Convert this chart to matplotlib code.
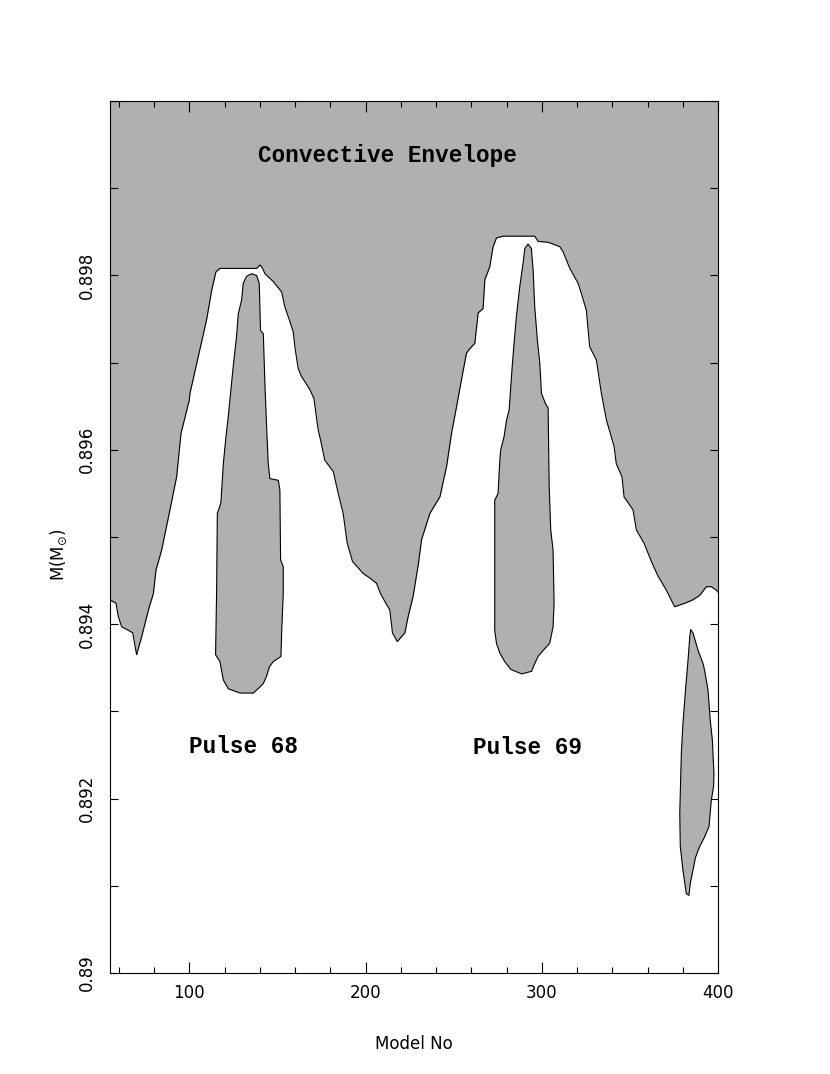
import matplotlib
matplotlib.use("Agg")
import matplotlib.pyplot as plt
from matplotlib.ticker import MultipleLocator, FixedLocator

# ---- data ----
env_x = [55, 58.4, 59.7, 61.6, 65.4, 67.9, 70.1, 73, 75.4, 77.3, 79.6, 81.1, 84.3, 89.0,
         92.8, 95.3, 100.0, 100.4, 105.1, 109.8, 112.7, 115.1, 117.4, 138.2, 140.1, 141.6,
         142.9, 147.6, 152.4, 154.2, 157.1, 159, 159.9, 161.8, 163.7, 168.4, 170.7, 173.1,
         174.5, 176.9, 181.7, 184.5, 187.3, 189.6, 192.6, 198.7, 202.4, 206.2, 208.5, 211,
         213.8, 215.3, 218, 222.3, 224.2, 227, 229.9, 231.8, 236.5, 242.2, 246, 248.8,
         251.6, 254.4, 257.3, 259.2, 262, 263.9, 266.7, 267.7, 270.5, 272.4, 274.3, 278.1,
         287.5, 296, 297.9, 303.6, 310.2, 312.1, 315.9, 320.6, 322.5, 325.3, 327.2, 331,
         333.8, 336.7, 341, 342.3, 345.5, 346.7, 351.8, 353.7, 358, 362.6, 366, 370.7,
         375.4, 381.1, 385.8, 389.6, 393.4, 396.2, 399.1, 400]
env_y = [0.89428, 0.89424, 0.89409, 0.89397, 0.89393, 0.89390, 0.89365, 0.89386, 0.89405,
         0.89420, 0.89435, 0.89462, 0.89485, 0.89531, 0.89569, 0.89619, 0.89657, 0.89665,
         0.89707, 0.89749, 0.89783, 0.89804, 0.89808, 0.89808, 0.89812, 0.89808, 0.89802,
         0.89793, 0.89781, 0.89764, 0.89747, 0.89735, 0.89718, 0.89693, 0.89684, 0.89669,
         0.89659, 0.89623, 0.89611, 0.89588, 0.89575, 0.89550, 0.89527, 0.89493, 0.89472,
         0.89458, 0.89453, 0.89447, 0.89435, 0.89426, 0.89416, 0.89390, 0.89380, 0.89390,
         0.89409, 0.89432, 0.89468, 0.89497, 0.89527, 0.89546, 0.89581, 0.89619, 0.89649,
         0.89680, 0.89711, 0.89716, 0.89722, 0.89757, 0.89762, 0.89795, 0.89810, 0.89833,
         0.89843, 0.89845, 0.89845, 0.89845, 0.89839, 0.89838, 0.89833, 0.89827, 0.89808,
         0.89791, 0.89779, 0.89760, 0.89718, 0.89703, 0.89665, 0.89634, 0.89604, 0.89584,
         0.89569, 0.89546, 0.89531, 0.89508, 0.89493, 0.89470, 0.89455, 0.89439, 0.89420,
         0.89424, 0.89428, 0.89433, 0.89443, 0.89443, 0.89439, 0.89437]

p68_x = [135.3, 132.5, 130.6, 129.7, 127.8, 126.8, 124.9, 123.6, 122.1, 120.8, 119.3, 117.9,
         115.9, 115.5, 114.9, 117.4, 118.3, 119.3, 122.1, 128.7, 136.3, 140.1, 142, 143.8,
         145.4, 147.6, 152, 152.4, 153.3, 153.3, 151.8, 151.4, 150.5, 145.7, 144.8, 143.8,
         142.9, 142, 140.4, 139.7, 138.2]
p68_y = [0.89802, 0.89799, 0.89791, 0.89772, 0.89756, 0.89730, 0.89695, 0.89669, 0.89638,
         0.89615, 0.89584, 0.89539, 0.89527, 0.89439, 0.89365, 0.89357, 0.89347, 0.89336,
         0.89326, 0.89321, 0.89321, 0.89328, 0.89332, 0.89340, 0.89351, 0.89357, 0.89363,
         0.89390, 0.89435, 0.89466, 0.89474, 0.89554, 0.89565, 0.89567, 0.89584, 0.89630,
         0.89676, 0.89733, 0.89737, 0.89791, 0.89800]

p69_x = [292.2, 290.4, 289.4, 287.5, 285.6, 284.1, 283.2, 282.4, 281.5, 280, 278.6, 276.7,
         276.2, 275.2, 273.3, 273.3, 274.3, 276.2, 279, 282.5, 288.6, 294.3, 295.4, 297.9,
         300.8, 304.5, 306.4, 307, 306.4, 305.1, 304.2, 303.6, 302.1, 299.8, 298.9, 297.5,
         296, 295.1, 294.1]
p69_y = [0.89836, 0.89831, 0.89814, 0.89787, 0.89753, 0.89718, 0.89695, 0.89672, 0.89646,
         0.89634, 0.89615, 0.89600, 0.89588, 0.89550, 0.89542, 0.89393, 0.89378, 0.89367,
         0.89357, 0.89348, 0.89343, 0.89346, 0.89352, 0.89363, 0.89370, 0.89378, 0.89397,
         0.89424, 0.89485, 0.89508, 0.89558, 0.89648, 0.89653, 0.89665, 0.89699, 0.89726,
         0.89764, 0.89806, 0.89831]

p70_x = [384.5, 385.8, 388.7, 391.5, 392.4, 394.3, 395.6, 396.8, 397.7, 397.5, 396.2, 394.9,
         392.4, 389.6, 387.3, 385.8, 384.3, 383.5, 382, 380.1, 378.6, 378.3, 379.2, 380.1,
         381.7, 383, 384]
p70_y = [0.89394, 0.89390, 0.89370, 0.89355, 0.89347, 0.89325, 0.89290, 0.89267, 0.89229,
         0.89214, 0.89198, 0.89168, 0.89156, 0.89145, 0.89133, 0.89118, 0.89103, 0.89089,
         0.89091, 0.89118, 0.89145, 0.89183, 0.89252, 0.89286, 0.89328, 0.89359, 0.89386]

labels_text = ["Convective Envelope", "Pulse 68", "Pulse 69"]
labels_x = [212.7, 131, 292]
labels_y = [0.89938, 0.89260, 0.89259]

xmajor = [100, 200, 300, 400]
ymajor = [0.890, 0.892, 0.894, 0.896, 0.898]
ymajor_labels = ["0.89", "0.892", "0.894", "0.896", "0.898"]

# ---- figure ----
GRAY = "#b0b0b0"
LW = 0.8
fig = plt.figure(figsize=(8.3, 10.74), dpi=100)
ax = fig.add_axes([110 / 830, 101 / 1074, 608 / 830, 872 / 1074])
ax.set_xlim(55, 400)
ax.set_ylim(0.890, 0.900)

ax.fill_between(env_x, env_y, 0.900, color=GRAY, linewidth=0, zorder=1)
ax.plot(env_x, env_y, color="black", lw=LW, zorder=3)
for px, py in [(p68_x, p68_y), (p69_x, p69_y), (p70_x, p70_y)]:
    ax.fill(px, py, facecolor=GRAY, edgecolor="black", lw=LW, zorder=2)

for t, tx, ty in zip(labels_text, labels_x, labels_y):
    ax.text(tx, ty, t, ha="center", va="center", fontsize=16.3,
            family="Liberation Mono", fontweight="bold", zorder=4)

ax.xaxis.set_major_locator(FixedLocator(xmajor))
ax.xaxis.set_minor_locator(MultipleLocator(20))
ax.yaxis.set_major_locator(FixedLocator(ymajor))
ax.set_yticklabels(ymajor_labels)
ax.yaxis.set_minor_locator(MultipleLocator(0.001))

ax.tick_params(axis="both", which="both", direction="in", top=True, right=True,
               width=LW, colors="black", labelsize=12)
ax.tick_params(axis="x", which="major", length=8, pad=8)
ax.tick_params(axis="x", which="minor", length=4)
ax.tick_params(axis="y", which="major", length=6, pad=10)
ax.tick_params(axis="y", which="minor", length=6)
for lab in ax.get_yticklabels():
    lab.set_rotation(90)
    lab.set_va("center")

for s in ax.spines.values():
    s.set_linewidth(LW)
    s.set_color("black")
    s.set_zorder(5)

ax.set_xlabel("Model No", fontsize=12, labelpad=24)
ax.set_ylabel(r"M(M$_{\odot}$)", fontsize=12)
ax.yaxis.set_label_coords(-0.068, 0.48)

fig.savefig("out.png", dpi=100)
